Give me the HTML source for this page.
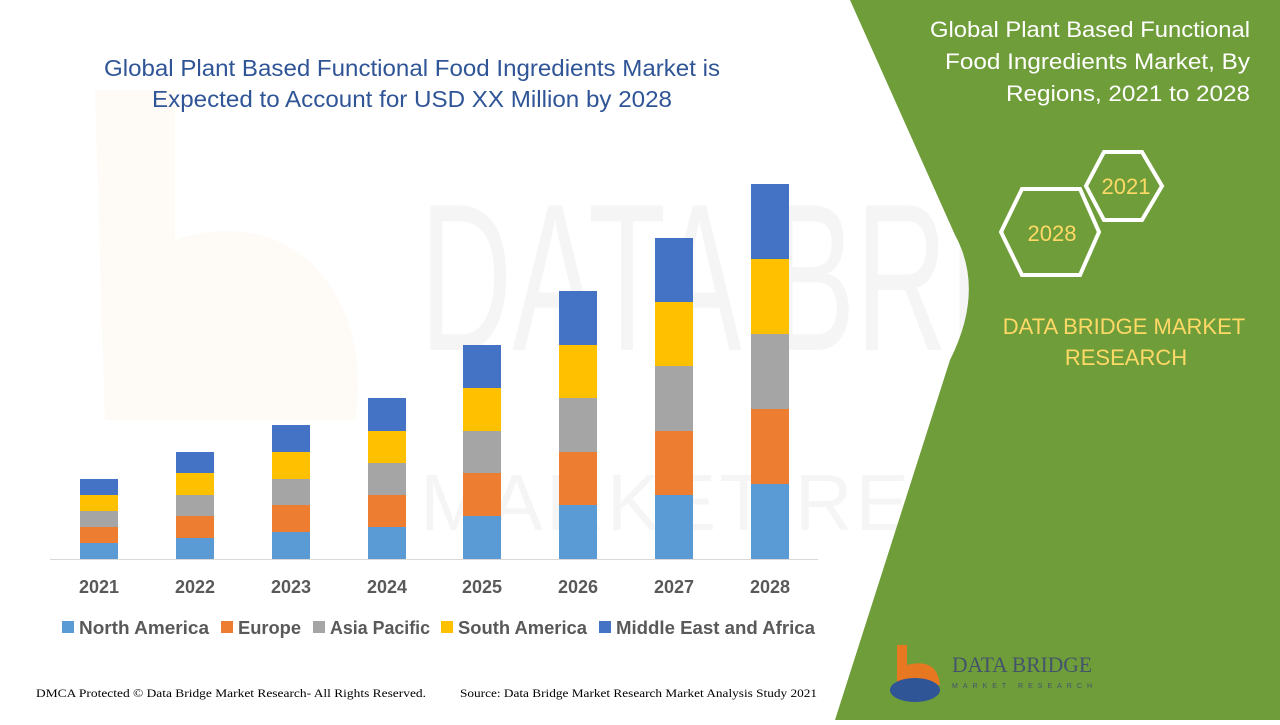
<!DOCTYPE html>
<html><head><meta charset="utf-8"><style>
body{margin:0;width:1280px;height:720px;overflow:hidden;background:#fff;font-family:"Liberation Sans",sans-serif}
</style></head><body>
<svg width="1280" height="720" viewBox="0 0 1280 720" xmlns="http://www.w3.org/2000/svg" font-family="Liberation Sans, sans-serif">
<rect width="1280" height="720" fill="#fff"/>
<g opacity="0.035">
<text x="420" y="350" font-size="210" fill="#000" textLength="840" lengthAdjust="spacingAndGlyphs">DATA BRIDGE</text>
<text x="420" y="530" font-size="80" fill="#000" textLength="840" lengthAdjust="spacing">MARKET RESEARCH</text>
</g>
<g opacity="0.04"><path d="M95 90 h80 v150 c120 -40 200 60 180 180 l-250 0z" fill="#e87722"/></g>
<path d="M850 0 L1280 0 L1280 720 L835 720 L950 360 Q985 290 955 235 Z" fill="#6f9d3a"/>
<text x="104" y="76" font-size="23" fill="#2f5597" textLength="616" lengthAdjust="spacingAndGlyphs">Global Plant Based Functional Food Ingredients Market is</text>
<text x="152" y="107" font-size="23" fill="#2f5597" textLength="520" lengthAdjust="spacingAndGlyphs">Expected to Account for USD XX Million by 2028</text>
<line x1="50" y1="559.5" x2="818" y2="559.5" stroke="#d9d9d9" stroke-width="1"/>
<g>
<rect x="80" y="543" width="38" height="16" fill="#5b9bd5"/><rect x="80" y="527" width="38" height="16" fill="#ed7d31"/><rect x="80" y="511" width="38" height="16" fill="#a5a5a5"/><rect x="80" y="495" width="38" height="16" fill="#ffc000"/><rect x="80" y="479" width="38" height="16" fill="#4472c4"/>
<rect x="176" y="538" width="38" height="21" fill="#5b9bd5"/><rect x="176" y="516" width="38" height="22" fill="#ed7d31"/><rect x="176" y="495" width="38" height="21" fill="#a5a5a5"/><rect x="176" y="473" width="38" height="22" fill="#ffc000"/><rect x="176" y="452" width="38" height="21" fill="#4472c4"/>
<rect x="272" y="532" width="38" height="27" fill="#5b9bd5"/><rect x="272" y="505" width="38" height="27" fill="#ed7d31"/><rect x="272" y="479" width="38" height="26" fill="#a5a5a5"/><rect x="272" y="452" width="38" height="27" fill="#ffc000"/><rect x="272" y="425" width="38" height="27" fill="#4472c4"/>
<rect x="368" y="527" width="38" height="32" fill="#5b9bd5"/><rect x="368" y="495" width="38" height="32" fill="#ed7d31"/><rect x="368" y="463" width="38" height="32" fill="#a5a5a5"/><rect x="368" y="431" width="38" height="32" fill="#ffc000"/><rect x="368" y="398" width="38" height="33" fill="#4472c4"/>
<rect x="463" y="516" width="38" height="43" fill="#5b9bd5"/><rect x="463" y="473" width="38" height="43" fill="#ed7d31"/><rect x="463" y="431" width="38" height="42" fill="#a5a5a5"/><rect x="463" y="388" width="38" height="43" fill="#ffc000"/><rect x="463" y="345" width="38" height="43" fill="#4472c4"/>
<rect x="559" y="505" width="38" height="54" fill="#5b9bd5"/><rect x="559" y="452" width="38" height="53" fill="#ed7d31"/><rect x="559" y="398" width="38" height="54" fill="#a5a5a5"/><rect x="559" y="345" width="38" height="53" fill="#ffc000"/><rect x="559" y="291" width="38" height="54" fill="#4472c4"/>
<rect x="655" y="495" width="38" height="64" fill="#5b9bd5"/><rect x="655" y="431" width="38" height="64" fill="#ed7d31"/><rect x="655" y="366" width="38" height="65" fill="#a5a5a5"/><rect x="655" y="302" width="38" height="64" fill="#ffc000"/><rect x="655" y="238" width="38" height="64" fill="#4472c4"/>
<rect x="751" y="484" width="38" height="75" fill="#5b9bd5"/><rect x="751" y="409" width="38" height="75" fill="#ed7d31"/><rect x="751" y="334" width="38" height="75" fill="#a5a5a5"/><rect x="751" y="259" width="38" height="75" fill="#ffc000"/><rect x="751" y="184" width="38" height="75" fill="#4472c4"/>
</g>
<g font-size="18" font-weight="bold" fill="#595959" text-anchor="middle">
<text x="99" y="593">2021</text><text x="195" y="593">2022</text><text x="291" y="593">2023</text><text x="387" y="593">2024</text><text x="482" y="593">2025</text><text x="578" y="593">2026</text><text x="674" y="593">2027</text><text x="770" y="593">2028</text>
</g>
<g font-size="18" font-weight="bold" fill="#595959">
<rect x="62" y="621" width="12" height="12" fill="#5b9bd5"/><text x="79" y="634" textLength="130" lengthAdjust="spacingAndGlyphs">North America</text>
<rect x="221" y="621" width="12" height="12" fill="#ed7d31"/><text x="238" y="634" textLength="63" lengthAdjust="spacingAndGlyphs">Europe</text>
<rect x="313" y="621" width="12" height="12" fill="#a5a5a5"/><text x="330" y="634" textLength="100" lengthAdjust="spacingAndGlyphs">Asia Pacific</text>
<rect x="441" y="621" width="12" height="12" fill="#ffc000"/><text x="458" y="634" textLength="129" lengthAdjust="spacingAndGlyphs">South America</text>
<rect x="599" y="621" width="12" height="12" fill="#4472c4"/><text x="616" y="634" textLength="199" lengthAdjust="spacingAndGlyphs">Middle East and Africa</text>
</g>
<text x="36" y="697" font-family="Liberation Serif, serif" font-size="12" fill="#000" textLength="390" lengthAdjust="spacingAndGlyphs">DMCA Protected © Data Bridge Market Research- All Rights Reserved.</text>
<text x="460" y="697" font-family="Liberation Serif, serif" font-size="12" fill="#000" textLength="357" lengthAdjust="spacingAndGlyphs">Source: Data Bridge Market Research Market Analysis Study 2021</text>
<g font-size="22" fill="#fff" text-anchor="end">
<text x="1250" y="37" textLength="320" lengthAdjust="spacingAndGlyphs">Global Plant Based Functional</text>
<text x="1250" y="69" textLength="305" lengthAdjust="spacingAndGlyphs">Food Ingredients Market, By</text>
<text x="1250" y="101" textLength="244" lengthAdjust="spacingAndGlyphs">Regions, 2021 to 2028</text>
</g>
<polygon points="1104,152 1142,152 1162,186 1142,220 1104,220 1086,186" fill="none" stroke="#fff" stroke-width="4"/>
<polygon points="1022,189 1080,189 1099,232 1080,275 1022,275 1001,232" fill="none" stroke="#fff" stroke-width="4"/>
<text x="1126" y="194" font-size="22" fill="#ffd966" text-anchor="middle">2021</text>
<text x="1052" y="241" font-size="22" fill="#ffd966" text-anchor="middle">2028</text>
<text x="1124" y="334" font-size="22" fill="#ffd966" text-anchor="middle">DATA BRIDGE MARKET</text>
<text x="1126" y="365" font-size="22" fill="#ffd966" text-anchor="middle">RESEARCH</text>
<path d="M897 645 h10 v20 q30 -8 33 20 h-43z" fill="#e87722"/>
<ellipse cx="915" cy="690" rx="25" ry="12" fill="#2f5597"/>
<text x="952" y="672" font-size="22" fill="#44546a" font-family="Liberation Serif, serif" textLength="140" lengthAdjust="spacingAndGlyphs">DATA BRIDGE</text>
<text x="952" y="688" font-size="7" fill="#44546a" textLength="140" lengthAdjust="spacing">MARKET RESEARCH</text>
</svg>
</body></html>
